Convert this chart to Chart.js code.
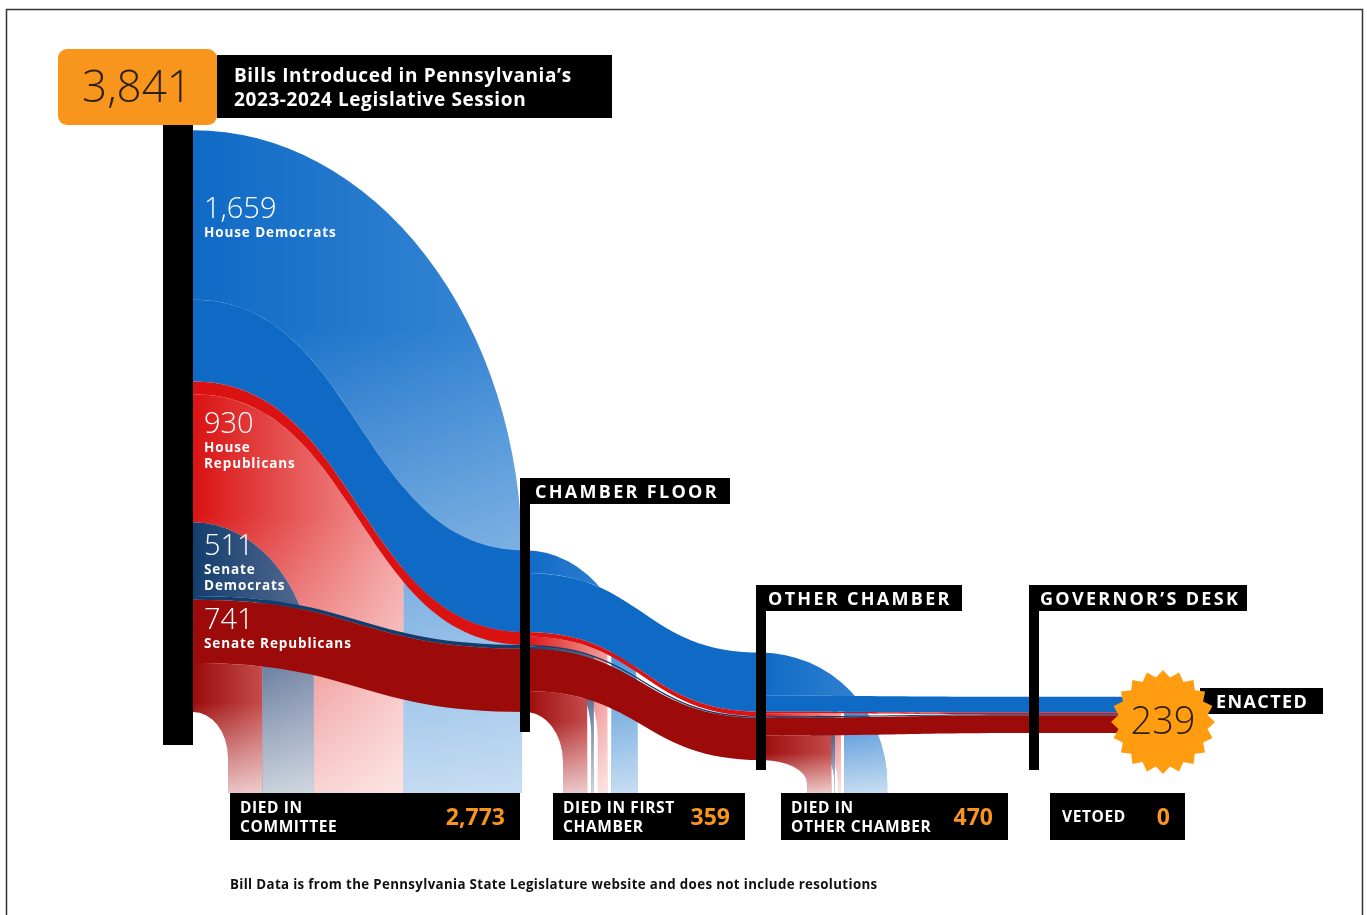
<!DOCTYPE html>
<html>
<head>
<meta charset="utf-8">
<title>Bills Introduced in Pennsylvania’s 2023-2024 Legislative Session</title>
<script src="https://cdn.jsdelivr.net/npm/chart.js@4.4.1/dist/chart.umd.min.js"></script>
<style>
  html, body { margin: 0; padding: 0; background: #fff; }
  canvas { display: block; }
</style>
</head>
<body>
<canvas id="myChart" width="1367" height="915"></canvas>
<script>
//datos: proyectos de ley por partido en cada etapa
var parties = ['House Democrats', 'House Republicans', 'Senate Democrats', 'Senate Republicans'];
var partyLabels = [['House Democrats'], ['House', 'Republicans'], ['Senate', 'Democrats'], ['Senate Republicans']];
var introduced = [1659, 930, 511, 741];
var atChamberFloor = [540, 85, 25, 418];
var atOtherChamber = [390, 30, 10, 279];
var atGovernorsDesk = [105, 10, 6, 118];
var enactedByParty = [105, 10, 6, 118];
var stageLabels = ['CHAMBER FLOOR', 'OTHER CHAMBER', 'GOVERNOR’S DESK'];
var outcomeLabels = [['DIED IN', 'COMMITTEE'], ['DIED IN FIRST', 'CHAMBER'], ['DIED IN', 'OTHER CHAMBER'], ['VETOED']];
var outcomeTotals = [2773, 359, 470, 0];
var enactedTotal = 239;
var introducedTotal = 3841;

//layout (unidades de las escalas)
var stageX = [193, 525, 761, 1034, 1163];
var stageBase = [0, 0, -317, -139, -139];
var dropFloor = -535;
var dropStart = [228, 563, 807];
var dropSqueeze = [0.7, 1.15, 1.0];
var dropGap = [0, 4, 3];
var diedOnTop = [[true, false, true, false], [true, false, false, false], [true, false, false, false]];
var labelDy = [88, 52, 33, 29];
var outcomeBoxes = [[230, 520], [553, 745], [781, 1008], [1050, 1185]];

//colores
var partyColors = ['#0F6AC6', '#DA1212', '#123E6E', '#9C0A0A'];
var partyFade = ['#3A88D4', '#F4A0A0', '#5A6D93', '#C44C4C'];
var orange = '#F7951D';
var FONT = "'Open Sans', 'Noto Sans', sans-serif";

function fmt(n){ return n.toLocaleString('en-US'); }

var flowPlugin = {
    id: 'flows',
    afterDraw: function(chart){
        var c = chart.ctx;
        var xs = chart.scales.x, ys = chart.scales.y;
        function X(v){ return xs.getPixelForValue(v); }
        function Y(v){ return ys.getPixelForValue(v); }
        function T(n){ return Y(0) - Y(n); }

        var stages = [introduced, atChamberFloor, atOtherChamber, atGovernorsDesk, enactedByParty];
        //intervalos apilados por etapa [arriba, abajo]
        var spans = stages.map(function(vals, s){
            var out = [], acc = stageBase[s];
            for (var p = vals.length - 1; p >= 0; p--) {
                out[p] = [Y(acc + vals[p]), Y(acc)];
                acc += vals[p];
            }
            return out;
        });
        var floorY = Y(dropFloor);

        //trozo de la curva de un enlace desde x0 hasta xEnd
        function partCurve(x0, y0, x1, y1, xEnd){
            var xm = (x0 + x1) / 2;
            function bx(t){ var u = 1 - t; return u*u*u*x0 + 3*u*u*t*xm + 3*u*t*t*xm + t*t*t*x1; }
            var lo = 0, hi = 1;
            for (var i = 0; i < 40; i++) { var mid = (lo + hi) / 2; if (bx(mid) < xEnd) lo = mid; else hi = mid; }
            var t = (lo + hi) / 2;
            function L(a, b){ return [a[0] + (b[0] - a[0]) * t, a[1] + (b[1] - a[1]) * t]; }
            var P0 = [x0, y0], P1 = [xm, y0], P2 = [xm, y1], P3 = [x1, y1];
            var q1 = L(P0, P1), p12 = L(P1, P2), p23 = L(P2, P3);
            var q2 = L(q1, p12), r = L(p12, p23), q3 = L(q2, r);
            return [P0, q1, q2, q3];
        }

        function turnY(yEdge, x0, xEnd){
            return Math.min(yEdge + (xEnd - x0) * 1.3, floorY - 10);
        }

        function drop(d, x0, x1, s){
            var p = d.p;
            c.beginPath();
            c.moveTo(x0, d.ya);
            if (d.keepAbove) {
                var k = partCurve(x0, d.ya, x1, spans[s + 1][p][1], d.xr);
                c.bezierCurveTo(k[1][0], k[1][1], k[2][0], k[2][1], k[3][0], k[3][1]);
            } else {
                var yo = turnY(d.ya, x0, d.xr);
                c.ellipse(x0, yo, d.xr - x0, yo - d.ya, 0, -Math.PI / 2, 0);
            }
            c.lineTo(d.xr, floorY);
            c.lineTo(d.xl, floorY);
            if (d.keepBelow) {
                var m = partCurve(x0, d.yb, x1, spans[s + 1][p][0], d.xl);
                c.lineTo(m[3][0], m[3][1]);
                c.bezierCurveTo(m[2][0], m[2][1], m[1][0], m[1][1], m[0][0], m[0][1]);
            } else {
                var yi = turnY(d.yb, x0, d.xl);
                c.lineTo(d.xl, yi);
                c.ellipse(x0, yi, d.xl - x0, yi - d.yb, 0, 0, -Math.PI / 2, true);
            }
            c.closePath();
            var g = c.createLinearGradient(x0, 0, d.xr, 0);
            g.addColorStop(0, partyColors[p]);
            g.addColorStop(1, partyFade[p]);
            c.fillStyle = g;
            c.fill();
            var w = c.createLinearGradient(0, d.ya + (floorY - d.ya) * 0.3, 0, floorY);
            w.addColorStop(0, 'rgba(255,255,255,0)');
            w.addColorStop(1, 'rgba(255,255,255,0.72)');
            c.fillStyle = w;
            c.fill();
        }

        function link(x0, a, x1, b, color){
            var xm = (x0 + x1) / 2;
            c.beginPath();
            c.moveTo(x0, a[0]);
            c.bezierCurveTo(xm, a[0], xm, b[0], x1, b[0]);
            c.lineTo(x1, b[1]);
            c.bezierCurveTo(xm, b[1], xm, a[1], x0, a[1]);
            c.closePath();
            c.fillStyle = color;
            c.fill();
        }

        c.save();
        //flujos etapa por etapa
        for (var s = 0; s < 3; s++) {
            var x0 = X(stageX[s]), x1 = X(stageX[s + 1]);
            var drops = [], keeps = [];
            for (var p = 0; p < parties.length; p++) {
                var sp = spans[s][p];
                var died = stages[s][p] - stages[s + 1][p];
                var keep = stages[s + 1][p];
                var dSpan, kSpan;
                if (diedOnTop[s][p]) {
                    dSpan = [sp[0], sp[0] + T(died)];
                    kSpan = [sp[0] + T(died), sp[1]];
                } else {
                    kSpan = [sp[0], sp[0] + T(keep)];
                    dSpan = [sp[0] + T(keep), sp[1]];
                }
                if (died > 0) drops.push({ p: p, ya: dSpan[0], yb: dSpan[1], n: died,
                    keepAbove: !diedOnTop[s][p] && keep > 0, keepBelow: diedOnTop[s][p] && keep > 0 });
                keeps.push({ p: p, span: kSpan });
            }
            //las caidas: la mas baja va a la izquierda
            drops.sort(function(a, b){ return b.yb - a.yb; });
            var cursor = X(dropStart[s]);
            drops.forEach(function(d){
                d.xl = cursor;
                d.xr = cursor + T(d.n) * dropSqueeze[s];
                cursor = d.xr + dropGap[s];
            });
            for (var i = drops.length - 1; i >= 0; i--) drop(drops[i], x0, x1, s);
            keeps.forEach(function(k){
                link(x0, k.span, x1, spans[s + 1][k.p], partyColors[k.p]);
            });
        }
        //gobernador -> promulgado (veto 0)
        for (var p = 0; p < parties.length; p++) {
            link(X(stageX[3]), spans[3][p], X(stageX[4]), spans[4][p], partyColors[p]);
        }

        //barra inicial
        c.fillStyle = '#000';
        c.fillRect(X(stageX[0]) - 30, 118, 30, 627);

        //etiquetas de partido
        c.fillStyle = '#fff';
        c.textBaseline = 'alphabetic';
        c.textAlign = 'left';
        for (var p = 0; p < parties.length; p++) {
            var top = spans[0][p][0];
            var bx = X(stageX[0]) + 11;
            var by = top + labelDy[p];
            c.font = '300 29px ' + FONT;
            c.letterSpacing = '0px';
            c.fillText(fmt(introduced[p]), bx, by);
            c.font = '700 13.5px ' + FONT;
            c.letterSpacing = '0.9px';
            partyLabels[p].forEach(function(line, j){
                c.fillText(line, bx, by + 19 + j * 16);
            });
        }

        //lineas y etiquetas de etapa
        var tagTops = [478, 585, 585];
        var tagWidths = [210, 206, 218];
        var lineEnds = [732, 770, 770];
        var tagPad = [10, 7, 6];
        for (var s = 1; s <= 3; s++) {
            var lx = X(stageX[s]);
            c.fillStyle = '#000';
            c.fillRect(lx - 5, tagTops[s - 1], 10, lineEnds[s - 1] - tagTops[s - 1]);
            c.fillRect(lx - 5, tagTops[s - 1], tagWidths[s - 1], 26);
            c.fillStyle = '#fff';
            c.font = '700 18px ' + FONT;
            c.letterSpacing = '2.3px';
            c.fillText(stageLabels[s - 1], lx + tagPad[s - 1], tagTops[s - 1] + 20);
        }

        //promulgado
        var ex = X(stageX[4]);
        c.fillStyle = '#000';
        c.fillRect(ex + 37, 688, 123, 26);
        c.fillStyle = '#fff';
        c.font = '700 18px ' + FONT;
        c.letterSpacing = '1.4px';
        c.fillText('ENACTED', ex + 53, 708);
        c.beginPath();
        var pts = 20, cy = 722;
        for (var i = 0; i < pts * 2; i++) {
            var r = i % 2 ? 45 : 52;
            var a = -Math.PI / 2 + i * Math.PI / pts;
            var px = ex + r * Math.cos(a), py = cy + r * Math.sin(a);
            if (i === 0) c.moveTo(px, py); else c.lineTo(px, py);
        }
        c.closePath();
        c.fillStyle = '#FF9C0F';
        c.fill();
        c.fillStyle = '#2A1E0C';
        c.font = '300 38px ' + FONT;
        c.letterSpacing = '0px';
        c.textAlign = 'center';
        c.textBaseline = 'middle';
        c.fillText(fmt(enactedTotal), ex, cy + 1);

        //cabecera
        c.textAlign = 'left';
        c.textBaseline = 'alphabetic';
        c.fillStyle = '#000';
        c.fillRect(217, 55, 395, 63);
        c.fillStyle = '#fff';
        c.font = '700 19px ' + FONT;
        c.letterSpacing = '0.6px';
        c.fillText('Bills Introduced in Pennsylvania’s', 234, 82);
        c.fillText('2023-2024 Legislative Session', 234, 106);
        c.fillStyle = orange;
        c.beginPath();
        c.roundRect(58, 49, 159, 76, 9);
        c.fill();
        c.fillStyle = '#2A1E0C';
        c.font = '300 44px ' + FONT;
        c.letterSpacing = '0px';
        c.textAlign = 'center';
        c.textBaseline = 'middle';
        c.fillText(fmt(introducedTotal), 137, 89);

        //cajas de resultados
        c.textBaseline = 'alphabetic';
        outcomeBoxes.forEach(function(b, i){
            c.fillStyle = '#000';
            c.fillRect(b[0], 793, b[1] - b[0], 47);
            c.fillStyle = '#fff';
            c.textAlign = 'left';
            c.font = '700 15.5px ' + FONT;
            c.letterSpacing = '0.6px';
            var lines = outcomeLabels[i];
            if (lines.length === 1) {
                c.fillText(lines[0], b[0] + 12, 822);
            } else {
                c.fillText(lines[0], b[0] + 10, 813);
                c.fillText(lines[1], b[0] + 10, 832);
            }
            c.fillStyle = orange;
            c.textAlign = 'right';
            c.font = '700 23px ' + FONT;
            c.letterSpacing = '0px';
            c.fillText(fmt(outcomeTotals[i]), b[1] - 15, 825);
        });

        //nota
        c.textAlign = 'left';
        c.fillStyle = '#111';
        c.font = '700 13.3px ' + FONT;
        c.letterSpacing = '0.35px';
        c.fillText('Bill Data is from the Pennsylvania State Legislature website and does not include resolutions', 230, 889);
        c.letterSpacing = '0px';

        //marco
        c.strokeStyle = '#333';
        c.lineWidth = 1.5;
        c.beginPath();
        c.moveTo(6.5, 920);
        c.lineTo(6.5, 9.5);
        c.lineTo(1362.5, 9.5);
        c.lineTo(1362.5, 920);
        c.stroke();
        c.restore();
    }
};

var ctx = document.getElementById("myChart").getContext("2d");
var myChart = new Chart(ctx, {
    type: "scatter",
    data: { datasets: [] },
    options: {
        responsive: false,
        animation: false,
        layout: { padding: 0 },
        plugins: { legend: { display: false }, tooltip: { enabled: false } },
        scales: {
            x: { type: 'linear', min: 0, max: 1367, display: false },
            y: { type: 'linear', min: -1340, max: 4700, display: false }
        }
    },
    plugins: [flowPlugin]
});
</script>
</body>
</html>
